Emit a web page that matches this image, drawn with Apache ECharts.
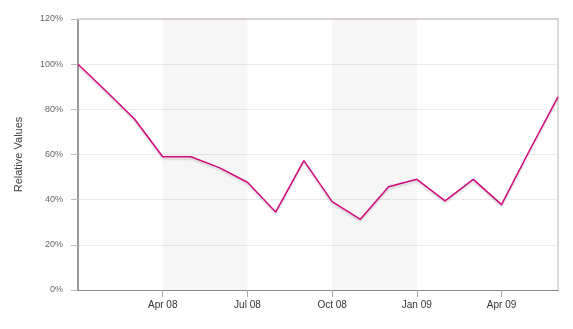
<!DOCTYPE html>
<html><head><meta charset="utf-8">
<script src="https://cdn.jsdelivr.net/npm/echarts@6/dist/echarts.min.js"></script>
<style>html,body{margin:0;padding:0;background:#fff}#c{width:573px;height:329px}</style>
</head><body><div id="c"></div>
<script>
const categories = ['Jan 08','Feb 08','Mar 08','Apr 08','May 08','Jun 08','Jul 08','Aug 08','Sep 08','Oct 08','Nov 08','Dec 08','Jan 09','Feb 09','Mar 09','Apr 09','May 09','Jun 09'];
const values = [100, 88, 75.7, 59, 59, 54.2, 47.7, 34.5, 57.3, 39.1, 31.3, 45.7, 49, 39.5, 49, 37.8, 62, 85.5];
const labeledTicks = ['Apr 08','Jul 08','Oct 08','Jan 09','Apr 09'];
const shadedBands = [['Apr 08','Jul 08'],['Oct 08','Jan 09']];

const chart = echarts.init(document.getElementById('c'));
const font = 'Liberation Sans, Arial, sans-serif';
chart.setOption({
  animation: false,
  grid: {left: 78, right: 15, top: 19, bottom: 39},
  xAxis: [{
    type: 'category', data: categories, boundaryGap: false,
    axisLine: {onZero: false, lineStyle: {color: '#8a8a8a', width: 1}},
    axisTick: {show: true, length: 7, lineStyle: {color: '#aaa'},
      interval: (i, v) => labeledTicks.includes(v)},
    axisLabel: {interval: (i, v) => labeledTicks.includes(v), color: '#333', fontSize: 10, fontFamily: font, margin: 10},
    splitLine: {show: false}
  }, {
    type: 'category', data: categories, boundaryGap: false, position: 'top',
    axisLine: {onZero: false, lineStyle: {color: '#dad0da', width: 2}},
    axisTick: {show: false}, axisLabel: {show: false}
  }],
  yAxis: [{
    type: 'value', min: 0, max: 120, interval: 20,
    name: 'Relative Values', nameLocation: 'middle', nameGap: 54, nameRotate: 90,
    nameTextStyle: {color: '#444', fontSize: 11, fontFamily: font},
    axisLine: {show: true, onZero: false, lineStyle: {color: '#999', width: 2}},
    axisTick: {show: true, length: 7, lineStyle: {color: '#bbb'}},
    axisLabel: {formatter: '{value}%', color: '#666', fontSize: 9, fontFamily: font, margin: 15},
    splitLine: {lineStyle: {color: '#ebebeb', width: 1}}
  }, {
    type: 'value', min: 0, max: 120, interval: 20, position: 'right',
    axisLine: {show: true, onZero: false, lineStyle: {color: '#dcdcdc', width: 2}},
    axisTick: {show: false}, axisLabel: {show: false}, splitLine: {show: false}
  }],
  series: [{
    type: 'line', data: values, symbol: 'none',
    lineStyle: {color: '#d0067c', width: 1.5, shadowColor: 'rgba(0,0,0,0.18)', shadowBlur: 2, shadowOffsetY: 2},
    markArea: {silent: true, itemStyle: {color: 'rgba(0,0,0,0.035)'},
      data: shadedBands.map(b => [{xAxis: b[0]}, {xAxis: b[1]}])}
  }]
});
</script></body></html>
